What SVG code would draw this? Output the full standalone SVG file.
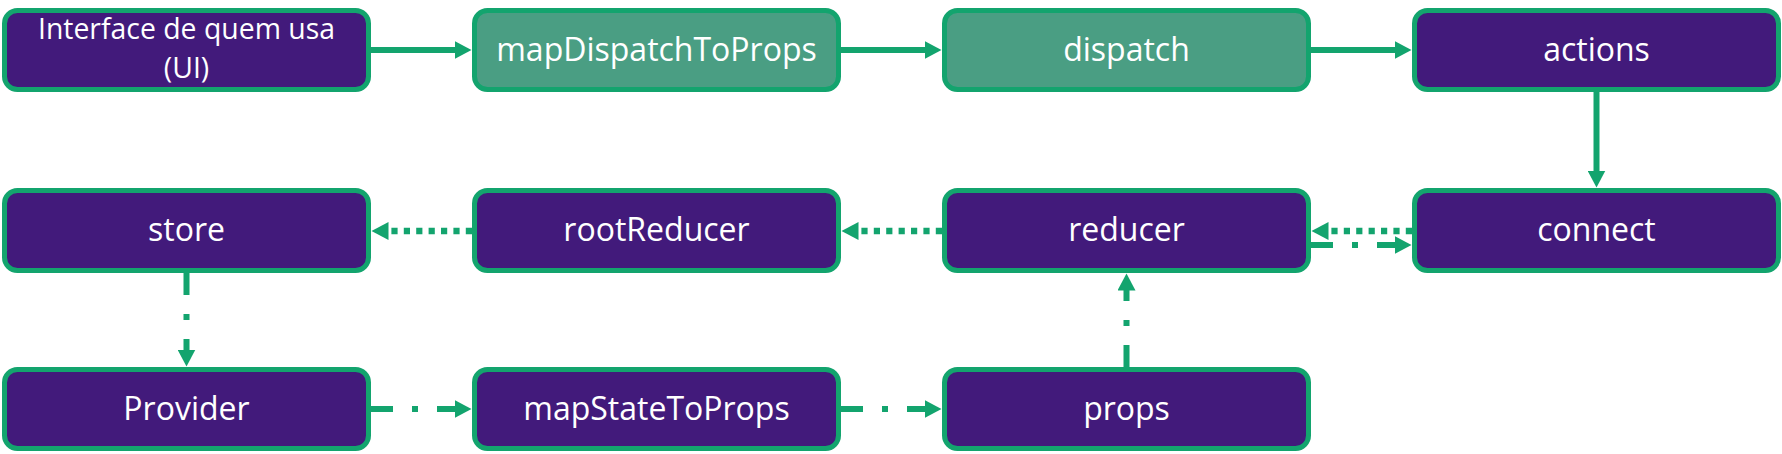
<svg xmlns="http://www.w3.org/2000/svg" width="1782" height="454" viewBox="0 0 1782 454">
<style>
.box{fill:#421A7B;stroke:#13A46E;stroke-width:5}
.gbox{fill:#4A9E83;stroke:#13A46E;stroke-width:5}
.lbl{font-family:"Open Sans","Noto Sans","DejaVu Sans",sans-serif;font-size:32px;fill:#FFFFFF;text-anchor:middle}
.lbl2{font-size:28.4px}
.c{fill:none;stroke:#13A46E;stroke-width:6;marker-end:url(#ah)}
.dot{stroke-dasharray:6.2 6.2;stroke-width:6.5}
.dd{stroke-dasharray:22 19 6 19}
</style>
<defs>
<marker id="ah" markerUnits="userSpaceOnUse" markerWidth="18" markerHeight="18" refX="0.5" refY="9" orient="auto" viewBox="0 0 18 18">
<path d="M0,0 L17,9 L0,18 z" fill="#13A46E"/>
</marker>
</defs>
<g id="connectors">
<path class="c" d="M371,50 H455"/>
<path class="c" d="M841,50 H925"/>
<path class="c" d="M1311,50 H1395"/>
<path class="c" d="M1596.5,92 V171"/>
<path class="c dot" d="M1412,231 H1328"/>
<path class="c dd" d="M1311,245 H1395"/>
<path class="c dot" d="M942,231 H858"/>
<path class="c dot" d="M472,231 H388"/>
<path class="c dd" d="M186.5,273 V350"/>
<path class="c dd" d="M371,409 H455"/>
<path class="c dd" d="M841,409 H925"/>
<path class="c dd" d="M1126.5,367 V290"/>
</g>
<g id="node-ui">
<rect class="box" x="4.5" y="10.5" width="364" height="79" rx="13"/>
<text class="lbl lbl2" x="186.5" y="39">Interface de quem usa</text>
<text class="lbl lbl2" x="186.5" y="78">(UI)</text>
</g>
<g id="node-mapDispatchToProps">
<rect class="gbox" x="474.5" y="10.5" width="364" height="79" rx="13"/>
<text class="lbl" x="656.5" y="61">mapDispatchToProps</text>
</g>
<g id="node-dispatch">
<rect class="gbox" x="944.5" y="10.5" width="364" height="79" rx="13"/>
<text class="lbl" x="1126.5" y="61">dispatch</text>
</g>
<g id="node-actions">
<rect class="box" x="1414.5" y="10.5" width="364" height="79" rx="13"/>
<text class="lbl" x="1596.5" y="61">actions</text>
</g>
<g id="node-store">
<rect class="box" x="4.5" y="190.5" width="364" height="80" rx="13"/>
<text class="lbl" x="186.5" y="241">store</text>
</g>
<g id="node-rootReducer">
<rect class="box" x="474.5" y="190.5" width="364" height="80" rx="13"/>
<text class="lbl" x="656.5" y="241">rootReducer</text>
</g>
<g id="node-reducer">
<rect class="box" x="944.5" y="190.5" width="364" height="80" rx="13"/>
<text class="lbl" x="1126.5" y="241">reducer</text>
</g>
<g id="node-connect">
<rect class="box" x="1414.5" y="190.5" width="364" height="80" rx="13"/>
<text class="lbl" x="1596.5" y="241">connect</text>
</g>
<g id="node-Provider">
<rect class="box" x="4.5" y="369.5" width="364" height="79" rx="13"/>
<text class="lbl" x="186.5" y="420">Provider</text>
</g>
<g id="node-mapStateToProps">
<rect class="box" x="474.5" y="369.5" width="364" height="79" rx="13"/>
<text class="lbl" x="656.5" y="420">mapStateToProps</text>
</g>
<g id="node-props">
<rect class="box" x="944.5" y="369.5" width="364" height="79" rx="13"/>
<text class="lbl" x="1126.5" y="420">props</text>
</g>
</svg>
